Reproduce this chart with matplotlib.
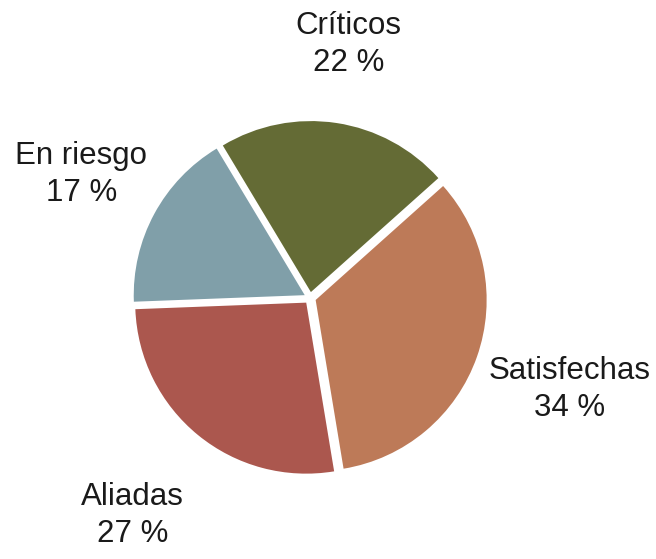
import numpy as np
import matplotlib.pyplot as plt

# segment shares, clockwise from the top
labels = ['Críticos', 'Satisfechas', 'Aliadas', 'En riesgo']
shares = [22, 34, 27, 17]
colors = ['#646B35', '#BD7A58', '#AB574E', '#809FA9']
explode = [0.035, 0.035, 0.035, 0.035]
label_dist = [1.50, 1.61, 1.64, 1.52]

W, H = 656, 559
cx, cy, r = 310, 261, 171   # pie centre / radius in pixels

fig = plt.figure(figsize=(W / 100, H / 100), dpi=100)
ax = fig.add_axes([0, 0, 1, 1])

wedges, _ = ax.pie(shares, colors=colors, explode=explode,
                   startangle=121, counterclock=False, radius=1,
                   wedgeprops=dict(linewidth=0))

for w, lab, s, d in zip(wedges, labels, shares, label_dist):
    mid = np.deg2rad((w.theta1 + w.theta2) / 2)
    ax.text(d * np.cos(mid), d * np.sin(mid), '%s\n%d %%' % (lab, s),
            ha='center', va='center', fontsize=22.5,
            family='Liberation Sans', color='#1a1a1a', linespacing=1.32)

ax.set_xlim(-cx / r, (W - cx) / r)
ax.set_ylim(-cy / r, (H - cy) / r)
ax.set_aspect('equal')
ax.axis('off')

fig.savefig('out.png', dpi=100, facecolor='white')
